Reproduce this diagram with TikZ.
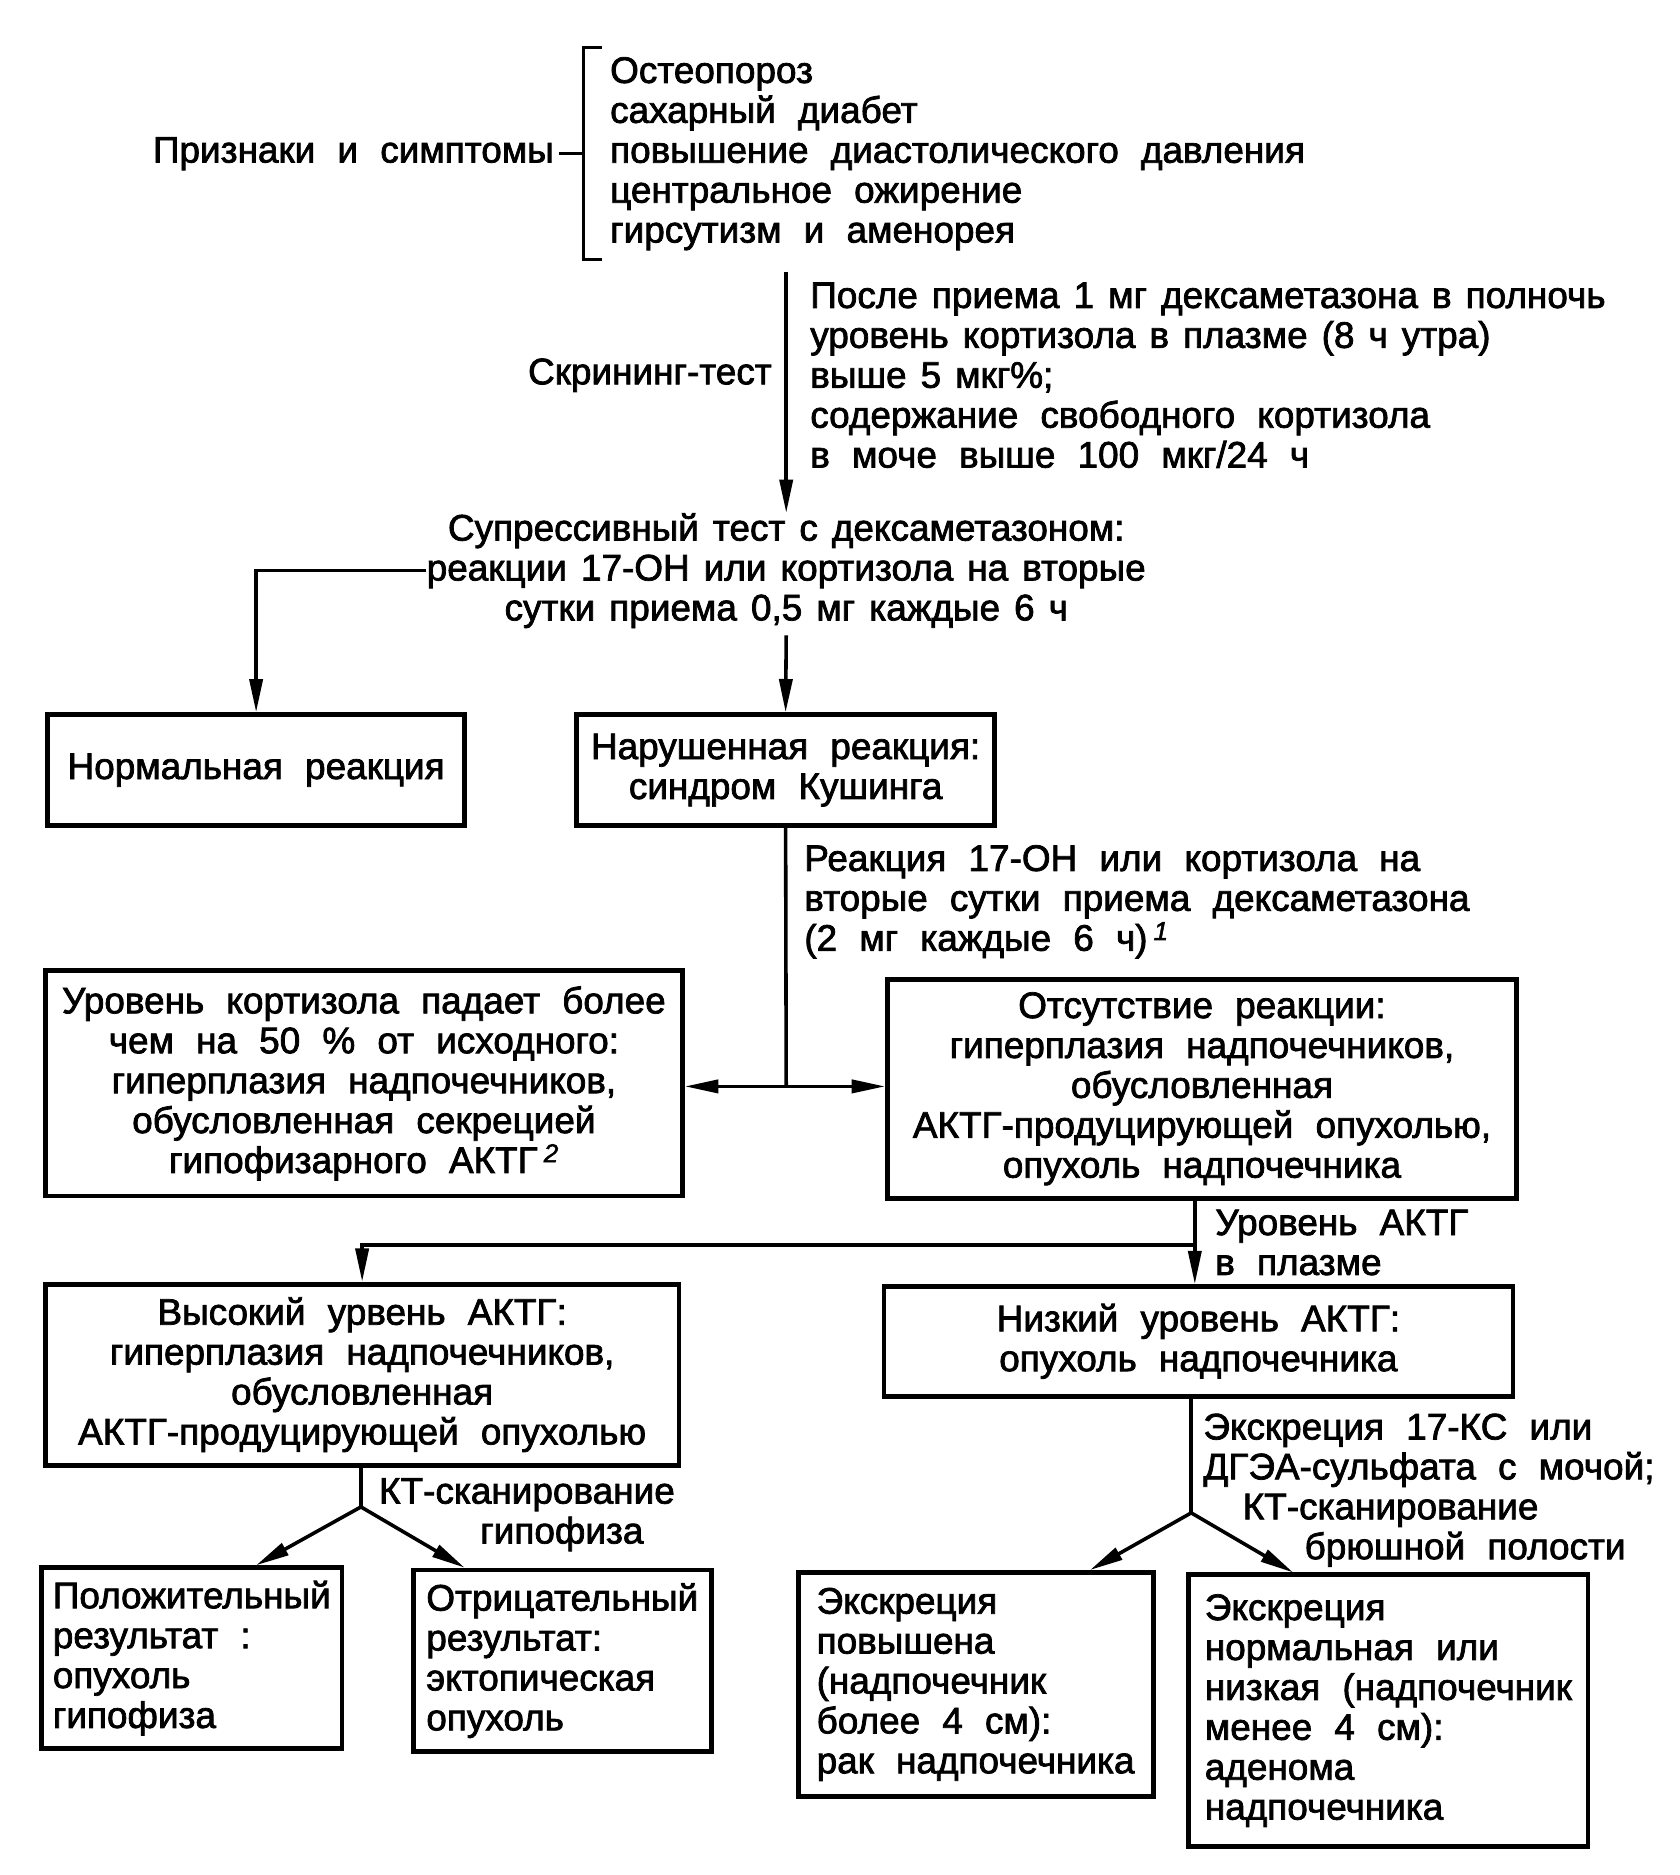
\documentclass[tikz,border=0pt]{standalone}
\usepackage{fontspec}
\setmainfont{Liberation Sans}[FakeBold=2]
\usetikzlibrary{arrows.meta,calc}
\newcommand\fsz{\fontsize{31}{33.5}\selectfont}
\newcommand\widesp{\spaceskip=0.6em plus 0.1em\relax}
\newcommand\normsp{\spaceskip=0.38em plus 0.1em\relax}
\begin{document}
\begin{tikzpicture}[x=1pt,y=-1pt,
  txt/.style={font=\fsz\normsp, inner sep=0pt, align=left},
  wd/.style={font=\fsz\widesp},
  box/.style={draw, line width=4pt, inner sep=8pt, font=\fsz\widesp, align=center},
  lbx/.style={draw, line width=4pt, inner sep=6pt, font=\fsz\widesp, align=left},
  conn/.style={line width=3pt},
  arr/.style={-{Triangle[length=28pt,width=11pt]}}]
\fill[white] (0,0) rectangle (1410,1574);
\useasboundingbox (0,0) rectangle (1410,1574);

% top: signs and symptoms
\node[txt,wd,anchor=east] (sym) at (465,129) {Признаки и симптомы};
\node[txt,wd,anchor=west] (list) at (512,129) {Остеопороз\\сахарный диабет\\повышение диастолического давления\\центральное ожирение\\гирсутизм и аменорея};
\coordinate (br) at (490,129);
\draw[conn] (505,40) -- (490,40) -- (490,218) -- (505,218);
\draw[conn] ([xshift=4pt]sym.east) -- (br);

% screening
\coordinate (scrtop) at (660,228);
\node[txt,anchor=east] (scrL) at (648,315) {Скрининг-тест};
\node[txt,anchor=west] (scrR) at (680,315) {После приема 1 мг дексаметазона в полночь\\уровень кортизола в плазме (8 ч утра)\\выше 5 мкг\%;\\{\widesp содержание свободного кортизола}\\{\widesp в моче выше 100 мкг/24 ч}};
\node[txt,align=center] (sup) at (660,479) {Супрессивный тест с дексаметазоном:\\реакции 17-ОН или кортизола на вторые\\сутки приема 0,5 мг каждые 6 ч};
\draw[conn,arr] (scrtop) -- (sup.north);

% first split
\node[box,minimum width=350pt,minimum height=93pt] (norm) at (215,646.5) {Нормальная реакция};
\node[box,minimum width=351pt,minimum height=93pt] (kush) at (659.5,646.5) {Нарушенная реакция:\\синдром Кушинга};
\draw[conn,arr] (sup.west) -- (norm.north |- sup.west) -- (norm.north);
\draw[conn,arr] ($(sup.south)+(0,6)$) -- (kush.north);

% second split
\node[txt,wd,anchor=west] (react) at (675,757) {Реакция 17-ОН или кортизола на\\вторые сутки приема дексаметазона\\(2 мг каждые 6 ч)\,\textsuperscript{\itshape 1}};
\node[box,minimum width=535pt,minimum height=189pt] (lbox) at (305.5,909.5) {Уровень кортизола падает более\\чем на 50 \% от исходного:\\гиперплазия надпочечников,\\обусловленная секрецией\\гипофизарного АКТГ\,\textsuperscript{\itshape 2}};
\node[box,minimum width=528pt,minimum height=184pt] (rbox) at (1009,914) {Отсутствие реакции:\\гиперплазия надпочечников,\\обусловленная\\АКТГ-продуцирующей опухолью,\\опухоль надпочечника};
\coordinate (j1) at (660,912);
\draw[conn] (kush.south) -- (j1);
\draw[conn,arr] (j1) -- (j1 -| lbox.east);
\draw[conn,arr] (j1) -- (j1 -| rbox.west);

% ACTH level
\node[txt,wd,anchor=west] (plasma) at (1020,1043) {Уровень АКТГ\\в плазме};
\node[box,minimum width=532pt,minimum height=152pt] (high) at (304,1154) {Высокий урвень АКТГ:\\гиперплазия надпочечников,\\обусловленная\\АКТГ-продуцирующей опухолью};
\node[box,minimum width=528pt,minimum height=92pt] (low) at (1006,1126) {Низкий уровень АКТГ:\\опухоль надпочечника};
\coordinate (j2) at (1003,1045);
\coordinate (j3) at (high.north |- j2);
\draw[conn] (j2 |- rbox.south) -- (j2);
\draw[conn,arr] (j2) -- (j2 |- low.north);
\draw[conn,arr] (j2) -- (j3) -- (high.north);

% bottom left
\node[txt,wd,anchor=west] (ct1) at (318,1271.5) {КТ-сканирование\\\hspace*{85pt}гипофиза};
\node[lbx,minimum width=252pt,minimum height=152pt] (pos) at (161,1392) {Положительный\\результат :\\опухоль\\гипофиза};
\node[lbx,minimum width=250pt,minimum height=152pt] (neg) at (472,1394) {Отрицательный\\результат:\\эктопическая\\опухоль};
\coordinate (j4) at (303,1265);
\draw[conn] (j4 |- high.south) -- (j4);
\draw[conn,arr] (j4) -- ([xshift=54pt]pos.north);
\draw[conn,arr] (j4) -- ([xshift=-82pt]neg.north);

% bottom right
\node[txt,wd,anchor=west] (excr) at (1010,1251) {Экскреция 17-КС или\\ДГЭА-сульфата с мочой;\\\hspace*{33pt}КТ-сканирование\\\hspace*{85pt}брюшной полости};
\node[lbx,minimum width=298pt,minimum height=188pt] (exc1) at (819,1414) {Экскреция\\повышена\\(надпочечник\\более 4 см):\\рак надпочечника};
\node[lbx,minimum width=335pt,minimum height=228pt] (exc2) at (1165.5,1436) {Экскреция\\нормальная или\\низкая (надпочечник\\менее 4 см):\\аденома\\надпочечника};
\coordinate (j5) at (1000,1270);
\draw[conn] (j5 |- low.south) -- (j5);
\draw[conn,arr] (j5) -- ([xshift=96pt]exc1.north);
\draw[conn,arr] (j5) -- ([xshift=-80pt]exc2.north);
\end{tikzpicture}
\end{document}
